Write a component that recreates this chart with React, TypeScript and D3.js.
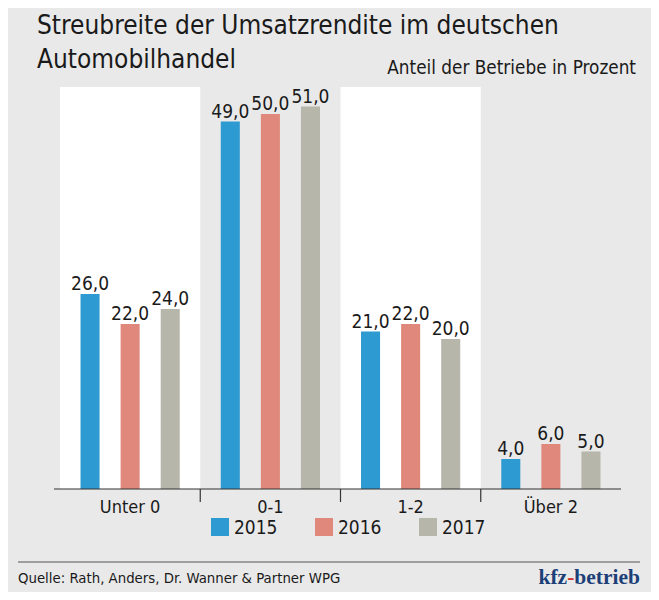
import React, { useEffect, useRef } from "react";
import * as d3 from "d3";

const categories = ["Unter 0", "0-1", "1-2", "Über 2"];
const years = ["2015", "2016", "2017"];
const values2015 = [26, 49, 21, 4];
const values2016 = [22, 50, 22, 6];
const values2017 = [24, 51, 20, 5];
const colors = ["#2e9ad2", "#e0887c", "#b6b6aa"];

const FONT = "'DejaVu Sans', sans-serif";

const App = () => {
  const ref = useRef<SVGSVGElement>(null);

  useEffect(() => {
    const width = 659, height = 600;
    const svg = d3.select(ref.current).attr("width", width).attr("height", height);
    svg.selectAll("*").remove();

    const series = [values2015, values2016, values2017];

    svg.append("rect").attr("width", width).attr("height", height).attr("fill", "#e9e9e9");

    const x0 = d3.scaleBand().domain(categories).range([60, 621]);
    const x1 = d3.scaleBand().domain(years).range([10, x0.bandwidth() - 10])
      .paddingInner(0.525).paddingOuter(0.2625);
    const y = d3.scaleLinear().domain([0, 53.6]).range([489, 87]);

    // white bands behind every other group
    svg.append("g").selectAll("rect")
      .data(categories.filter((_, i) => i % 2 === 0))
      .enter().append("rect")
      .attr("x", d => x0(d)!)
      .attr("y", y(53.6))
      .attr("width", x0.bandwidth())
      .attr("height", y(0) - y(53.6))
      .attr("fill", "#ffffff");

    const txt = (sel: any) => sel.attr("font-family", FONT).attr("font-stretch", "condensed").attr("fill", "#1a1a1a");

    // title
    const title = svg.append("text").call(txt).attr("x", 37).attr("font-size", 26);
    title.append("tspan").attr("x", 37).attr("y", 34).text("Streubreite der Umsatzrendite im deutschen");
    title.append("tspan").attr("x", 37).attr("y", 68).text("Automobilhandel");

    svg.append("text").call(txt)
      .attr("x", 636).attr("y", 74).attr("text-anchor", "end").attr("font-size", 18.8)
      .text("Anteil der Betriebe in Prozent");

    // bars
    const groups = svg.append("g").selectAll("g")
      .data(categories)
      .enter().append("g")
      .attr("transform", d => `translate(${x0(d)},0)`);

    years.forEach((yr, si) => {
      groups.append("rect")
        .attr("x", x1(yr)!)
        .attr("y", (_, i) => y(series[si][i]))
        .attr("width", x1.bandwidth())
        .attr("height", (_, i) => y(0) - y(series[si][i]))
        .attr("fill", colors[si]);

      groups.append("text").call(txt)
        .attr("x", x1(yr)! + x1.bandwidth() / 2)
        .attr("y", (_, i) => y(series[si][i]) - 4)
        .attr("text-anchor", "middle")
        .attr("font-size", 19)
        .text((_, i) => d3.format(".1f")(series[si][i]).replace(".", ","));
    });

    // axis
    svg.append("line")
      .attr("x1", 54).attr("x2", 621).attr("y1", y(0)).attr("y2", y(0))
      .attr("stroke", "#333").attr("stroke-width", 1.2);
    svg.append("g").selectAll("line")
      .data(categories.slice(1))
      .enter().append("line")
      .attr("x1", d => x0(d)!).attr("x2", d => x0(d)!)
      .attr("y1", y(0)).attr("y2", y(0) + 13)
      .attr("stroke", "#333").attr("stroke-width", 1.2);
    svg.append("g").selectAll("text")
      .data(categories)
      .enter().append("text").call(txt)
      .attr("x", d => x0(d)! + x0.bandwidth() / 2)
      .attr("y", 513)
      .attr("text-anchor", "middle")
      .attr("font-size", 18)
      .text(d => d);

    // legend
    const legend = svg.append("g").selectAll("g")
      .data(years)
      .enter().append("g")
      .attr("transform", (_, i) => `translate(${211 + i * 104},518)`);
    legend.append("rect").attr("width", 18).attr("height", 18).attr("fill", (_, i) => colors[i]);
    legend.append("text").call(txt)
      .attr("x", 23).attr("y", 16).attr("font-size", 19)
      .text(d => d);

    // footer
    svg.append("line")
      .attr("x1", 18).attr("x2", 640).attr("y1", 562).attr("y2", 562)
      .attr("stroke", "#555").attr("stroke-width", 1);
    svg.append("text").call(txt)
      .attr("x", 18).attr("y", 583).attr("font-size", 14.8)
      .text("Quelle: Rath, Anders, Dr. Wanner & Partner WPG");
    const brand = svg.append("text")
      .attr("x", 640).attr("y", 584).attr("text-anchor", "end")
      .attr("font-family", "'Liberation Serif', serif").attr("font-weight", "bold")
      .attr("font-size", 21.5).attr("fill", "#1d3f78");
    brand.append("tspan").text("kfz");
    brand.append("tspan").attr("fill", "#d0312d").text("-");
    brand.append("tspan").text("betrieb");
  }, []);

  return <svg ref={ref} style={{ display: "block", margin: "-8px" }}></svg>;
};

export default App;
